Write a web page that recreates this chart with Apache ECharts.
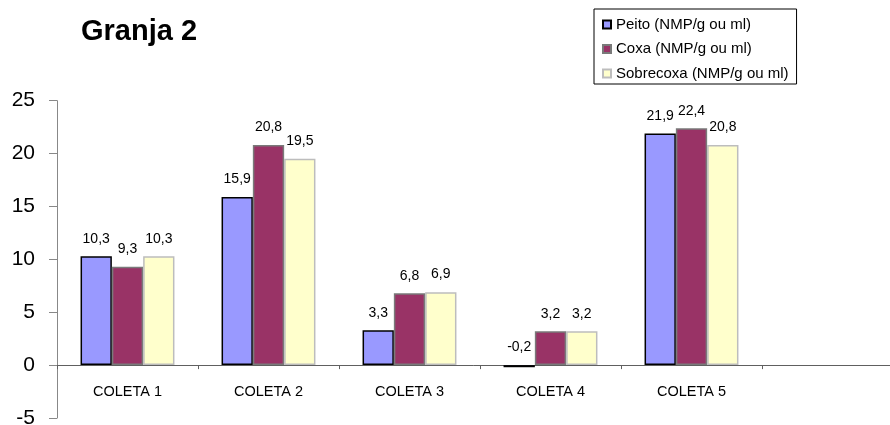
<!DOCTYPE html>
<html>
<head>
<meta charset="utf-8">
<script src="https://cdn.jsdelivr.net/npm/echarts@6/dist/echarts.min.js"></script>
<style>
  html, body { margin: 0; padding: 0; background: #fff; }
  #chart { width: 890px; height: 425px; }
</style>
</head>
<body>
<div id="chart"></div>
<script>
// Sample rounds (the last slot is an empty category on the axis)
const categories = ['COLETA 1', 'COLETA 2', 'COLETA 3', 'COLETA 4', 'COLETA 5', ''];

// Counts per cut
const peito = [10.3, 15.9, 3.3, -0.2, 21.9];
const coxa = [9.3, 20.8, 6.8, 3.2, 22.4];
const sobrecoxa = [10.3, 19.5, 6.9, 3.2, 20.8];

const seriesNames = ['Peito (NMP/g ou ml)', 'Coxa (NMP/g ou ml)', 'Sobrecoxa (NMP/g ou ml)'];
const yTicks = { min: -5, max: 25, step: 5 };

const FONT = '"Liberation Sans", Arial, sans-serif';

// Plot box
const GRID_TOP = 100.7;
const GRID_BOTTOM = 7;
const PLOT_H = 425 - GRID_TOP - GRID_BOTTOM;
// Lift the category axis (line, ticks, labels) up to the zero line
const zeroLift = PLOT_H * (0 - yTicks.min) / (yTicks.max - yTicks.min);

const styles = [
  { color: '#9999FF', borderColor: '#000000' },
  { color: '#993366', borderColor: '#7a7a7a' },
  { color: '#FFFFCC', borderColor: '#bdbdbd' }
];

function makeSeries(name, data, st) {
  return {
    name: name,
    type: 'bar',
    data: data,
    barWidth: '22.2%',
    barGap: '0%',
    itemStyle: { color: st.color, borderColor: st.borderColor, borderWidth: 1.5 },
    label: {
      show: true,
      position: 'top',
      distance: 10.5,
      color: '#000',
      fontFamily: FONT,
      fontSize: 14,
      formatter: p => String(p.value).replace('.', ',')
    },
    emphasis: { disabled: true },
    animation: false
  };
}

const chart = echarts.init(document.getElementById('chart'), null, { renderer: 'canvas' });
chart.setOption({
  backgroundColor: '#ffffff',
  animation: false,
  title: {
    text: 'Granja 2',
    left: 76,
    top: 12,
    textStyle: { fontFamily: FONT, fontSize: 29, fontWeight: 'bold', color: '#000' }
  },
  legend: {
    orient: 'vertical',
    left: 594,
    top: 9,
    padding: [8, 8, 3, 8],
    itemGap: 9.5,
    itemWidth: 8,
    itemHeight: 8,
    icon: 'rect',
    borderColor: '#000',
    borderWidth: 1,
    textStyle: { fontFamily: FONT, fontSize: 15, color: '#000' },
    data: seriesNames
  },
  grid: { left: 57, right: -13, top: GRID_TOP, bottom: GRID_BOTTOM, containLabel: false, outerBoundsMode: 'none' },
  xAxis: {
    type: 'category',
    data: categories,
    position: 'bottom',
    offset: -zeroLift,
    axisLine: { onZero: false, lineStyle: { color: '#606060', width: 1 } },
    axisTick: { show: true, length: 4, lineStyle: { color: '#606060' } },
    axisLabel: { margin: 19, color: '#000', fontFamily: FONT, fontSize: 14.5 },
    splitLine: { show: false }
  },
  yAxis: {
    type: 'value',
    min: yTicks.min,
    max: yTicks.max,
    interval: yTicks.step,
    axisLine: { show: true, onZero: false, lineStyle: { color: '#888888', width: 1 } },
    axisTick: { show: true, length: 8, lineStyle: { color: '#888888' } },
    axisLabel: { margin: 22, color: '#000', fontFamily: FONT, fontSize: 21 },
    splitLine: { show: false }
  },
  series: [
    makeSeries(seriesNames[0], peito, styles[0]),
    makeSeries(seriesNames[1], coxa, styles[1]),
    makeSeries(seriesNames[2], sobrecoxa, styles[2])
  ]
});
</script>
</body>
</html>
